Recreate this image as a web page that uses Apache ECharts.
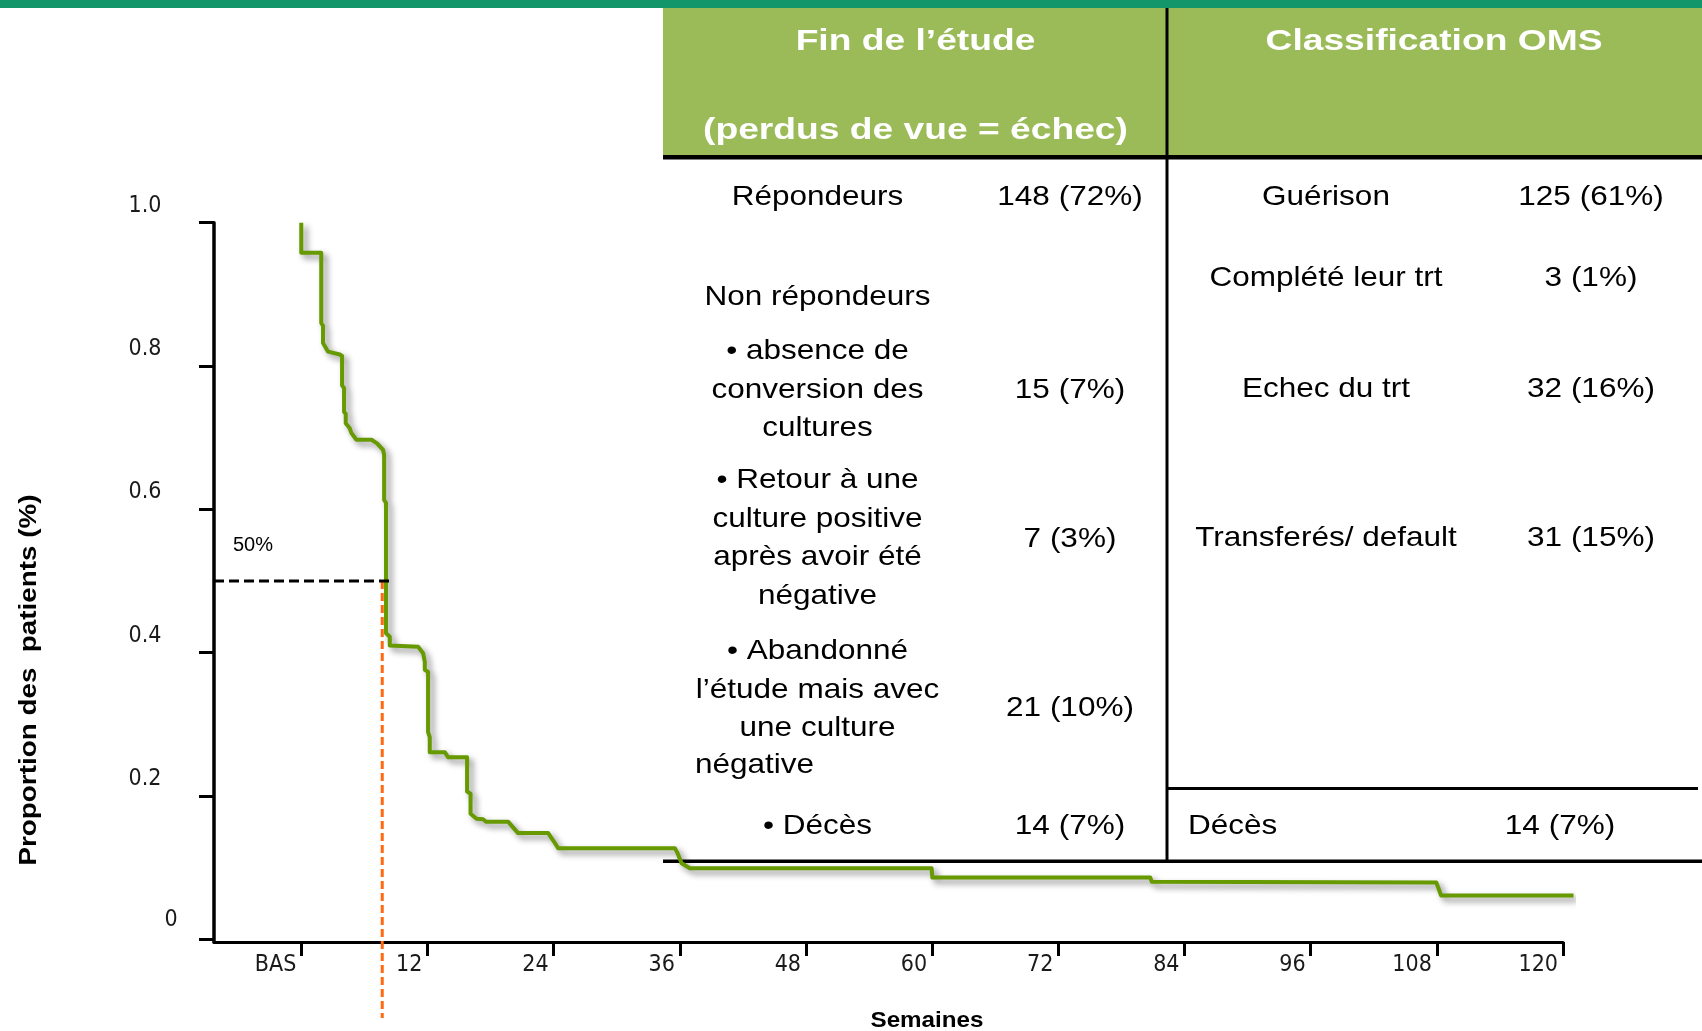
<!DOCTYPE html>
<html lang="fr">
<head>
<meta charset="utf-8">
<title>Survie – Fin de l’étude / Classification OMS</title>
<script src="https://cdn.jsdelivr.net/npm/echarts@6/dist/echarts.min.js"></script>
<style>
  html, body { margin: 0; padding: 0; background: #ffffff; }
  #chart { width: 1702px; height: 1031px; }
</style>
</head>
<body>
<div id="chart"></div>
<script>
// ---- Axis ticks ----
const xTickValues = [0, 12, 24, 36, 48, 60, 72, 84, 96, 108, 120];
const xTickLabels = ['BAS', '12', '24', '36', '48', '60', '72', '84', '96', '108', '120'];
const yTickValues = [0, 0.2, 0.4, 0.6, 0.8, 1.0];
const yTickLabels = ['0', '0.2', '0.4', '0.6', '0.8', '1.0'];

// ---- Proportion of patients over time (weeks) ----
const curveWeeks = [0, 0, 1.90, 1.90, 2.07, 2.07, 2.55, 3.66, 3.88, 3.88, 4.07, 4.07, 4.23, 4.23, 4.61, 4.78,
  5.25, 6.68, 7.21, 7.78, 7.88, 7.88, 8.06, 8.06, 8.42, 8.42, 8.61, 11.11, 11.59, 11.75, 11.75, 12.06,
  12.06, 12.22, 12.22, 12.41, 13.65, 13.96, 15.77, 15.77, 16.10, 16.10, 16.67, 17.29, 17.55, 19.67,
  20.62, 23.48, 23.95, 24.43, 35.53, 35.79, 36.17, 36.96, 59.95, 60.02, 80.74, 80.90, 107.95, 108.16,
  108.40, 121.0];
const curveSurvival = [1.000, 0.958, 0.958, 0.860, 0.856, 0.832, 0.820, 0.816, 0.814, 0.773, 0.769, 0.736,
  0.733, 0.720, 0.713, 0.706, 0.697, 0.697, 0.692, 0.683, 0.676, 0.613, 0.609, 0.427, 0.422, 0.410, 0.408,
  0.408, 0.399, 0.387, 0.376, 0.373, 0.289, 0.282, 0.261, 0.261, 0.261, 0.254, 0.254, 0.206, 0.203, 0.175,
  0.168, 0.1675, 0.164, 0.164, 0.148, 0.148, 0.138, 0.127, 0.127, 0.120, 0.106, 0.099, 0.099, 0.086, 0.086,
  0.080, 0.079, 0.071, 0.061, 0.061];

// ---- Median guides ----
const medianLevel = 0.5;        // 50 %
const medianWeek = 7.7;         // vertical (orange) guide
const medianGuideEnd = 8.42;    // end of the horizontal guide
const medianDropTo = -0.11;     // orange guide runs below the axis

// ---- Table: end of study (lost to follow-up = failure) ----
const studyHeader = ['Fin de l’étude', '(perdus de vue = échec)'];
const studyLabels = [
  ['Répondeurs'],
  ['Non répondeurs'],
  ['• absence de', 'conversion des', 'cultures'],
  ['• Retour à une', 'culture positive', 'après avoir été', 'négative'],
  ['• Abandonné', 'l’étude mais avec', 'une culture', 'négative'],
  ['• Décès']
];
const studyValues = ['148 (72%)', '', '15 (7%)', '7 (3%)', '21 (10%)', '14 (7%)'];

// ---- Table: WHO classification ----
const whoHeader = 'Classification OMS';
const whoLabels = ['Guérison', 'Complété leur trt', 'Echec du trt', 'Transferés/ default', 'Décès'];
const whoValues = ['125 (61%)', '3 (1%)', '32 (16%)', '31 (15%)', '14 (7%)'];

// ---- Axis titles ----
const xTitle = 'Semaines';
const yTitle = 'Proportion des  patients (%)';

// ===== layout & styles =====
const X_MIN = -8.3, X_MAX = 120;
const X_DRAW_MAX = 121;          // last follow-up runs slightly past the final tick
const Y_MIN = -0.004, Y_MAX = 1.0;
const GRID_LEFT = 214, GRID_RIGHT = 139, GRID_TOP = 222.7, GRID_BOTTOM = 89;
const PLOT_W = 1702 - GRID_LEFT - GRID_RIGHT;
// a second, invisible coordinate system with the same scale but a wider extent,
// so the curve can run past the end of the drawn axis
const DRAW_RIGHT = GRID_RIGHT - PLOT_W * (X_DRAW_MAX - X_MAX) / (X_MAX - X_MIN);

const tickFont = '"Liberation Sans Narrow", "DejaVu Sans Condensed", "Liberation Sans", sans-serif';
const bodyFont = '"Liberation Sans", Arial, sans-serif';

const GREEN_HEADER = '#9BBB59';
const TOP_BAR = '#13966A';

// row centres (px) for the table text
const studyLineY = [[197], [297], [351.5, 390, 428.5], [480.5, 519, 557.5, 596], [651.5, 690, 728.5, 765.5], [826.5]];
const studyValueY = [197, null, 390, 539.5, 708.5, 826.5];
const whoRowY = [197, 278, 389.5, 538.5, 826.5];

function bodyText(text, x, y, align) {
  return {
    type: 'text', x: x, y: y, scaleX: 1.125, z: 10,
    style: {
      text: text, x: 0, y: 0,
      align: align || 'center', verticalAlign: 'middle',
      font: 'normal 28px ' + bodyFont, fill: '#000'
    }
  };
}
function headerText(text, x, y) {
  return {
    type: 'text', x: x, y: y, scaleX: 1.24, z: 10,
    style: {
      text: text, x: 0, y: 0, align: 'center', verticalAlign: 'middle',
      font: 'bold 30px ' + bodyFont, fill: '#ffffff'
    }
  };
}

const graphics = [];
// top band
graphics.push({ type: 'rect', z: 1, shape: { x: 0, y: 0, width: 1702, height: 8 }, style: { fill: TOP_BAR } });
// table header
graphics.push({ type: 'rect', z: 1, shape: { x: 663, y: 8, width: 1039, height: 149 }, style: { fill: GREEN_HEADER } });
graphics.push({ type: 'rect', z: 2, shape: { x: 663, y: 155, width: 1039, height: 4.5 }, style: { fill: '#000' } });
// column divider
graphics.push({ type: 'rect', z: 2, shape: { x: 1165.5, y: 8, width: 3, height: 855 }, style: { fill: '#000' } });
// line above WHO deaths
graphics.push({ type: 'rect', z: 2, shape: { x: 1167, y: 787, width: 531, height: 3 }, style: { fill: '#000' } });
// bottom rule
graphics.push({ type: 'rect', z: 2, shape: { x: 663, y: 859.5, width: 1039, height: 3.5 }, style: { fill: '#000' } });

// header titles
graphics.push(headerText(studyHeader[0], 915.5, 41.5));
graphics.push(headerText(studyHeader[1], 915.5, 131));
graphics.push(headerText(whoHeader, 1434, 41.5));

// end-of-study column
studyLabels.forEach(function (lines, i) {
  lines.forEach(function (line, j) {
    const y = studyLineY[i][j];
    // last line of the "Abandonné" paragraph is left-set
    if (i === 4 && j === lines.length - 1) {
      graphics.push(bodyText(line, 695, y, 'left'));
    } else {
      graphics.push(bodyText(line, 817.5, y, 'center'));
    }
  });
  if (studyValues[i]) {
    graphics.push(bodyText(studyValues[i], 1070, studyValueY[i], 'center'));
  }
});

// WHO column
whoLabels.forEach(function (label, i) {
  if (i === whoLabels.length - 1) {
    graphics.push(bodyText(label, 1188, whoRowY[i], 'left'));
    graphics.push(bodyText(whoValues[i], 1560, whoRowY[i], 'center'));
  } else {
    graphics.push(bodyText(label, 1326, whoRowY[i], 'center'));
    graphics.push(bodyText(whoValues[i], 1591, whoRowY[i], 'center'));
  }
});

// axis titles
graphics.push({
  type: 'text', x: 29, y: 680, rotation: Math.PI / 2, scaleX: 1.16, z: 10,
  style: { text: yTitle, x: 0, y: 0, align: 'center', verticalAlign: 'middle',
    font: 'bold 24px ' + bodyFont, fill: '#000' }
});
graphics.push({
  type: 'text', x: 927, y: 1021, scaleX: 1.1, z: 10,
  style: { text: xTitle, x: 0, y: 0, align: 'center', verticalAlign: 'middle',
    font: 'bold 22px ' + bodyFont, fill: '#000' }
});

const curveData = curveWeeks.map(function (w, i) { return [w, curveSurvival[i]]; });

const chart = echarts.init(document.getElementById('chart'), null, { renderer: 'canvas' });
chart.setOption({
  animation: false,
  backgroundColor: '#ffffff',
  grid: [
    { left: GRID_LEFT, right: GRID_RIGHT, top: GRID_TOP, bottom: GRID_BOTTOM, containLabel: false },
    { left: GRID_LEFT, right: DRAW_RIGHT, top: GRID_TOP, bottom: GRID_BOTTOM, containLabel: false }
  ],
  xAxis: [
    {
      type: 'value', gridIndex: 0, min: X_MIN, max: X_MAX,
      splitLine: { show: false },
      axisLine: { show: true, onZero: false, lineStyle: { color: '#000', width: 3 } },
      axisTick: { show: true, customValues: xTickValues, length: 14, lineStyle: { color: '#000', width: 3 } },
      axisLabel: {
        customValues: xTickValues,
        formatter: function (v) { const k = xTickValues.indexOf(v); return k >= 0 ? xTickLabels[k] : ''; },
        align: 'right', padding: [0, 5, 0, 0], margin: 12,
        fontFamily: tickFont, fontSize: 23, color: '#1a1a1a'
      }
    },
    { type: 'value', gridIndex: 1, min: X_MIN, max: X_DRAW_MAX, show: false, splitLine: { show: false } }
  ],
  yAxis: [
    {
      type: 'value', gridIndex: 0, min: Y_MIN, max: Y_MAX,
      splitLine: { show: false },
      axisLine: { show: true, onZero: false, lineStyle: { color: '#000', width: 3.5 } },
      axisTick: { show: true, customValues: yTickValues, length: 15, lineStyle: { color: '#000', width: 3 } },
      axisLabel: {
        customValues: yTickValues,
        formatter: function (v) {
          const k = yTickValues.indexOf(v);
          const t = k >= 0 ? yTickLabels[k] : '';
          return k === 0 ? '{z|' + t + '}' : '{a|' + t + '}';
        },
        align: 'center', margin: 69, padding: [0, 0, 34, 0],
        fontFamily: tickFont, fontSize: 23, color: '#1a1a1a',
        rich: {
          a: { fontFamily: tickFont, fontSize: 23, color: '#1a1a1a' },
          z: { fontFamily: tickFont, fontSize: 23, color: '#1a1a1a', padding: [0, 0, 4, 52] }
        }
      }
    },
    { type: 'value', gridIndex: 1, min: Y_MIN, max: Y_MAX, show: false, splitLine: { show: false } }
  ],
  series: [
    {
      name: 'Proportion des patients',
      type: 'line',
      xAxisIndex: 1, yAxisIndex: 1,
      data: curveData,
      showSymbol: false,
      clip: false,
      z: 5,
      lineStyle: {
        color: '#669A00', width: 4, join: 'round', cap: 'butt',
        shadowColor: 'rgba(0,0,0,0.45)', shadowBlur: 6, shadowOffsetX: 4, shadowOffsetY: 4
      }
    },
    {
      name: 'Médiane',
      type: 'line',
      xAxisIndex: 1, yAxisIndex: 1,
      clip: false,
      z: 6,
      symbol: 'circle', symbolSize: 0.1,
      itemStyle: { color: 'rgba(0,0,0,0)' },
      lineStyle: { color: '#000', width: 3, type: [10, 5] },
      data: [
        {
          value: [X_MIN, medianLevel],
          label: {
            show: true,
            formatter: Math.round(medianLevel * 100) + '%',
            position: [19, -35], align: 'left', verticalAlign: 'middle',
            fontFamily: bodyFont, fontSize: 20, color: '#000'
          }
        },
        [medianGuideEnd, medianLevel]
      ]
    },
    {
      name: 'Semaine médiane',
      type: 'line',
      xAxisIndex: 1, yAxisIndex: 1,
      clip: false,
      z: 4,
      showSymbol: false,
      lineStyle: { color: '#FF6A10', width: 3, type: [8, 4] },
      data: [[medianWeek, medianLevel], [medianWeek, medianDropTo]]
    }
  ],
  graphic: graphics
});
</script>
</body>
</html>
